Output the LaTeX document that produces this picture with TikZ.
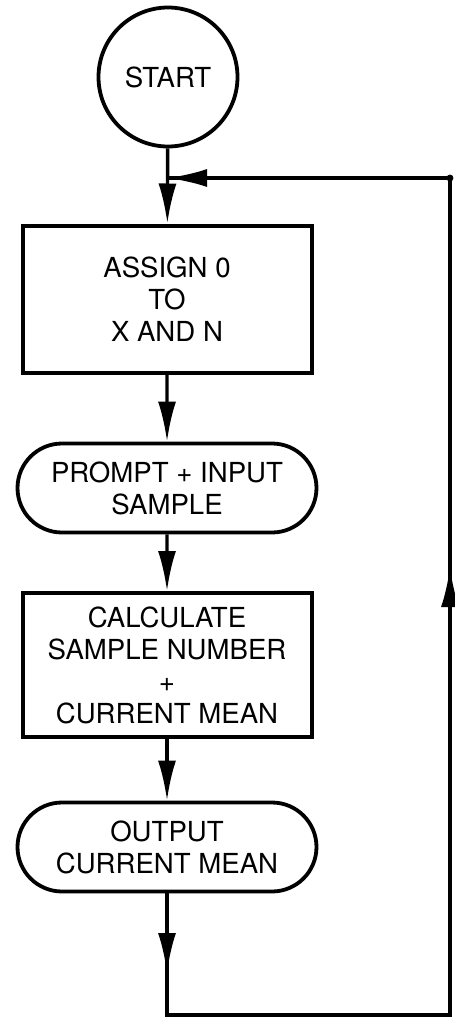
\documentclass[tikz,border=0pt]{standalone}
\usepackage{fontspec}
\setmainfont{TeX Gyre Heros}
\usetikzlibrary{shapes.misc}
\usetikzlibrary{arrows.meta}
\tikzset{startcirc/.style={circle, draw=black, line width=1.9pt, minimum size=139*0.5pt, inner sep=0pt, font=\fontsize{13.8}{16}\selectfont},
	procbox/.style={rectangle, draw=black, line width=2pt, minimum width=289*0.5pt, inner sep=0pt, align=center, font=\fontsize{13.8}{16}\selectfont},
	iobox/.style={rounded rectangle, draw=black, line width=1.9pt, minimum width=299*0.5pt, minimum height=89*0.5pt, inner sep=0pt, align=center, font=\fontsize{13.8}{16}\selectfont},
	flow/.style={-{Latex[length=20pt,width=9pt]}, line width=1.7pt},
	loopline/.style={line width=1.7pt}}

\begin{document}
\begin{tikzpicture}[x=0.5pt,y=-0.5pt]
	\useasboundingbox (0,0) rectangle (455,1019);
	\node[startcirc] (start) at (168,77) {START};
	\node[procbox, minimum height=147*0.5pt] (assign) at (167,299) {ASSIGN 0\\TO\\X AND N};
	\node[iobox] (prompt) at (167,488) {PROMPT + INPUT\\SAMPLE};
	\node[procbox, minimum height=144*0.5pt] (calc) at (167,665) {CALCULATE\\SAMPLE NUMBER\\+\\CURRENT MEAN};
	\node[iobox] (output) at (167,847) {OUTPUT\\CURRENT MEAN};

	\coordinate (join) at (167,178);
	\coordinate (tipdown) at (167,973);
	\coordinate (loopbl) at (167,1015);
	\coordinate (loopbr) at (450,1015);
	\coordinate (tipup) at (450,567);
	\coordinate (looptr) at (450,178);

	\draw[flow] (start) -- (assign);
	\draw[flow] (assign) -- (prompt);
	\draw[flow] (prompt) -- (calc);
	\draw[flow] (calc) -- (output);
	\draw[loopline] (output) -- (loopbl) -- (loopbr) -- (looptr) -- (join);
	\draw[flow] (output) -- (tipdown);
	\draw[flow] (loopbr) -- (tipup);
	\draw[flow] (looptr) -- (join);
	\filldraw[black] (looptr) circle (3);
\end{tikzpicture}
\end{document}
